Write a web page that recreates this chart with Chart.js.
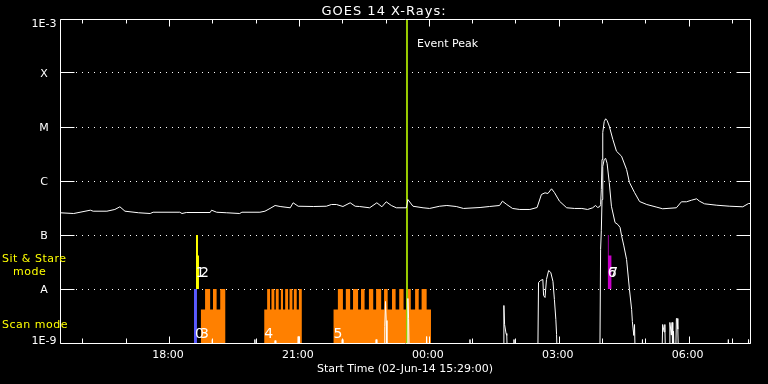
<!DOCTYPE html>
<html>
<head>
<meta charset="utf-8">
<script src="https://cdn.jsdelivr.net/npm/chart.js@4.4.1/dist/chart.umd.min.js"></script>
<style>
html,body{margin:0;padding:0;background:#000;}
canvas{display:block;}
</style>
</head>
<body>
<canvas id="c" width="768" height="384"></canvas>
<script>
// ---------- text ----------
const chartTitle = "GOES 14 X-Rays:";
const xAxisTitle = "Start Time (02-Jun-14 15:29:00)";
const eventLabel = "Event Peak";
const stareModeLabel = ["Sit & Stare", "mode"];
const scanModeLabel = "Scan mode";

// ---------- axes ----------
const timeRange = ["15:29", "07:25"];
const xTickTimes = ["18:00", "21:00", "00:00", "03:00", "06:00"];
const yTickValues = [1e-9, 1e-8, 1e-7, 1e-6, 1e-5, 1e-4, 1e-3];
const yTickLabels = ["1E-9", "A", "B", "C", "M", "X", "1E-3"];

// ---------- GOES long channel (1-8 A), W/m^2 ----------
const longTimes = ["15:29","15:48","16:11","16:15","16:34","16:45","16:52","16:59","17:18","17:34","17:38","18:15","18:18","18:24","18:57","18:59","19:06","19:20","19:38","19:41","20:06","20:13","20:20","20:27","20:34","20:48","20:52","20:59","21:20","21:38","21:45","21:52","22:01","22:11","22:18","22:24","22:38","22:48","22:55","23:01","23:08","23:15","23:29","23:31","23:38","23:52","00:01","00:15","00:25","00:38","00:48","01:11","01:24","01:38","01:42","01:48","01:56","02:06","02:20","02:30","02:36","02:41","02:45","02:50","02:54","03:01","03:11","03:22","03:32","03:40","03:47","03:51","03:54","03:57","03:58","03:59","04:00","04:01","04:03","04:05","04:07","04:10","04:15","04:20","04:27","04:34","04:38","04:45","04:52","05:02","05:16","05:24","05:43","05:50","05:57","06:04","06:11","06:15","06:22","06:39","06:57","07:15","07:23","07:25"];
const longFlux = [2.58e-7,2.50e-7,2.88e-7,2.76e-7,2.76e-7,2.97e-7,3.33e-7,2.76e-7,2.58e-7,2.50e-7,2.64e-7,2.64e-7,2.50e-7,2.61e-7,2.61e-7,2.88e-7,2.64e-7,2.58e-7,2.50e-7,2.64e-7,2.64e-7,2.76e-7,3.10e-7,3.52e-7,3.37e-7,3.19e-7,3.95e-7,3.41e-7,3.37e-7,3.41e-7,3.67e-7,3.67e-7,3.37e-7,3.95e-7,3.41e-7,3.37e-7,3.19e-7,3.95e-7,3.33e-7,4.12e-7,3.52e-7,3.19e-7,3.19e-7,4.54e-7,3.41e-7,3.19e-7,3.10e-7,3.41e-7,3.52e-7,3.37e-7,3.10e-7,3.23e-7,3.37e-7,3.52e-7,4.23e-7,3.67e-7,3.10e-7,2.97e-7,2.97e-7,3.23e-7,5.62e-7,6.04e-7,5.87e-7,7.17e-7,6.12e-7,4.23e-7,3.19e-7,3.10e-7,3.10e-7,2.97e-7,3.19e-7,3.52e-7,3.23e-7,3.37e-7,3.67e-7,6.96e-7,2.50e-6,7.91e-6,1.26e-5,1.42e-5,1.32e-5,1.04e-5,5.87e-6,3.56e-6,2.88e-6,1.63e-6,9.38e-7,6.12e-7,4.17e-7,3.67e-7,3.27e-7,3.06e-7,3.19e-7,4.12e-7,4.12e-7,4.41e-7,4.68e-7,4.23e-7,3.78e-7,3.56e-7,3.41e-7,3.33e-7,3.83e-7,3.83e-7];

// ---------- GOES short channel (0.5-4 A), W/m^2 (values below 1E-9 are off scale) ----------
const shortTimes = ["15:29","18:59","19:00","19:01","19:58","19:59","20:00","20:26","20:27","20:28","20:58","20:59","21:00","21:59","22:00","22:01","22:46","22:47","22:48","22:58","22:59","23:00","23:01","23:02","23:30","23:31","23:32","23:33","23:56","23:57","23:58","00:56","00:57","00:58","01:43","01:44","01:45","01:47","01:48","01:49","01:57","01:58","01:59","02:31","02:32","02:35","02:38","02:39","02:41","02:43","02:46","02:49","02:52","02:54","02:56","02:57","02:58","03:57","03:58","03:59","04:00","04:01","04:03","04:05","04:07","04:10","04:13","04:18","04:22","04:25","04:27","04:30","04:34","04:38","04:41","04:42","04:44","04:45","04:46","04:55","04:56","04:57","05:23","05:24","05:26","05:27","05:28","05:33","05:34","05:36","05:37","05:38","05:39","05:40","05:42","05:43","05:44","05:45","05:46","06:54","06:55","06:56","07:22","07:23","07:24","07:25"];
const shortFlux = [5e-10,5e-10,1.16e-9,5e-10,5e-10,1.16e-9,5e-10,5e-10,1.11e-9,5e-10,5e-10,1.32e-9,5e-10,5e-10,1.16e-9,5e-10,5e-10,1.16e-9,5e-10,5e-10,2.02e-9,5.87e-9,2.61e-9,5e-10,5e-10,6.67e-9,2.84e-9,5e-10,5e-10,1.32e-9,5e-10,5e-10,1.16e-9,5e-10,5e-10,4.95e-9,2.20e-9,1.50e-9,1.38e-9,5e-10,5e-10,1.16e-9,5e-10,5e-10,1.32e-8,1.44e-8,1.50e-8,7.58e-9,6.96e-9,1.50e-8,2.20e-8,2.02e-8,1.38e-8,6.39e-9,2.72e-9,1.44e-9,5e-10,5e-10,5.39e-8,1.20e-7,4.54e-7,1.86e-6,2.50e-6,2.62e-6,2.13e-6,9.38e-7,3.41e-7,1.70e-7,1.56e-7,1.38e-7,9.79e-8,6.50e-8,3.52e-8,9.79e-9,4.17e-9,2.50e-9,1.38e-9,2.20e-9,5e-10,5e-10,1.16e-9,5e-10,5e-10,2.20e-9,1.60e-9,2.20e-9,5e-10,5e-10,2.40e-9,1.40e-9,2.40e-9,5e-10,1.65e-9,5e-10,5e-10,2.84e-9,2.84e-9,1.80e-9,5e-10,5e-10,1.16e-9,5e-10,5e-10,1.16e-9,5e-10,5e-10];

// ---------- instrument observations ----------
const eventPeakTime = "23:29:45";
const scanPeriods = [["18:44","19:18"],["20:12","21:04"],["21:48","00:03"]];
const scanExposures = [["18:50","18:57"],["19:01","19:06"],["19:11","19:18"],
  ["20:16","20:20"],["20:22","20:26"],["20:28","20:32"],["20:35","20:38"],["20:41","20:45"],["20:47","20:51"],["20:53","20:57"],["21:00","21:04"],
  ["21:54","22:01"],["22:05","22:11"],["22:15","22:22"],["22:26","22:31"],["22:37","22:43"],["22:47","22:54"],["22:58","23:03"],["23:09","23:14"],["23:19","23:25"],["23:30","23:35"],["23:41","23:46"],["23:50","23:57"]];
const blueScanPeriods = [["18:34:36","18:38:46"]];
const yellowStarePeriods = [["18:37:24","18:41:32"]];
const yellowStareExposures = [["18:37:24","18:40:10"]];
const magentaStarePeriods = [["04:07:48","04:13:18"]];
const magentaStareExposures = [["04:07:48","04:09:12"]];
const scanFloor = 1e-9, scanBase = 4.17e-9, scanTop = 1e-8;
const stareFloor = 1e-8, stareBase = 4.17e-8, stareTop = 1e-7;

// observation number labels
const obsLabelTexts = ["0","1","2","3","4","5","6","7"];
const obsLabelTimes = ["18:36","18:37","18:43","18:43","20:12","21:48","04:08","04:10"];
const obsLabelFlux  = [1.26e-9,1.70e-8,1.70e-8,1.26e-9,1.26e-9,1.26e-9,1.70e-8,1.70e-8];

// ---------- helpers ----------
function H(s) {
  const p = s.split(':').map(Number);
  let v = p[0] + p[1] / 60 + (p[2] || 0) / 3600;
  if (v < 12) v += 24;
  return v;
}
function series(times, vals) { return times.map((t, i) => ({ x: H(t), y: vals[i] })); }
function steps(segs, floor) {
  const b = [...new Set(segs.flatMap(s => [s.t0, s.t1]))].sort((a, c) => a - c);
  const lv = t => Math.max(floor, ...segs.filter(s => s.t0 <= t && t < s.t1).map(s => s.level));
  const pts = []; let prev = floor;
  for (const t of b) { const l = lv(t); pts.push({ x: t, y: prev }); pts.push({ x: t, y: l }); prev = l; }
  return pts;
}
const seg = (list, level) => list.map(p => ({ t0: H(p[0]), t1: H(p[1]), level }));

const FONT = '"DejaVu Sans", sans-serif';

const fillDs = (data, color, floor, order) => ({
  data, borderWidth: 0, borderColor: 'transparent', backgroundColor: color,
  fill: { value: floor }, pointRadius: 0, order
});

const datasets = [
  { label: 'long', data: series(longTimes, longFlux), borderColor: '#ffffff', borderWidth: 1, pointRadius: 0, fill: false, order: 0 },
  { label: 'short', data: series(shortTimes, shortFlux), borderColor: '#ffffff', borderWidth: 1, pointRadius: 0, fill: false, order: 0 },
  { label: 'peak', data: [{ x: H(eventPeakTime), y: 1e-9 }, { x: H(eventPeakTime), y: 1e-3 }], borderColor: '#99cc00', borderWidth: 2, pointRadius: 0, fill: false, order: 1 },
  fillDs(steps(seg(blueScanPeriods, scanTop), scanFloor), '#5a5aff', scanFloor, 2),
  fillDs(steps([...seg(yellowStarePeriods, stareBase), ...seg(yellowStareExposures, stareTop)], stareFloor), '#ffff00', stareFloor, 2),
  fillDs(steps([...seg(magentaStarePeriods, stareBase), ...seg(magentaStareExposures, stareTop)], stareFloor), '#c800c8', stareFloor, 2),
  fillDs(steps([...seg(scanPeriods, scanBase), ...seg(scanExposures, scanTop)], scanFloor), '#ff8000', scanFloor, 3)
];

const idlAxes = {
  id: 'idlAxes',
  beforeDatasetsDraw(chart) {
    const { ctx, chartArea: a, scales: { y } } = chart;
    ctx.save();
    ctx.strokeStyle = '#ffffff'; ctx.lineWidth = 1; ctx.setLineDash([1, 5]);
    yTickValues.slice(1, -1).forEach(v => {
      const py = Math.floor(y.getPixelForValue(v)) + 0.5;
      ctx.beginPath(); ctx.moveTo(a.left + 16, py); ctx.lineTo(a.right - 14, py); ctx.stroke();
    });
    ctx.restore();
  },
  afterDatasetsDraw(chart) {
    const { ctx, chartArea: a, scales: { x, y } } = chart;
    ctx.save();
    ctx.strokeStyle = '#ffffff'; ctx.lineWidth = 1; ctx.setLineDash([]);
    const L = a.left + 0.5, R = a.right + 0.5, T = a.top + 0.5, B = a.bottom + 0.5;
    ctx.beginPath(); ctx.rect(L, T, R - L, B - T); ctx.stroke();
    // y ticks
    yTickValues.forEach(v => {
      const py = Math.floor(y.getPixelForValue(v)) + 0.5;
      ctx.beginPath();
      ctx.moveTo(L, py); ctx.lineTo(L + 14, py);
      ctx.moveTo(R - 14, py); ctx.lineTo(R, py);
      ctx.stroke();
    });
    // x ticks (hourly minor, 3-hourly major)
    const majors = xTickTimes.map(H);
    for (let h = Math.ceil(x.min); h <= x.max; h++) {
      const px = Math.round(x.getPixelForValue(h)) + 0.5;
      const major = majors.some(m => Math.abs(m - h) < 1e-6);
      const lenT = major ? 7 : 4, lenB = major ? 7 : 5;
      ctx.beginPath();
      ctx.moveTo(px, T); ctx.lineTo(px, T + lenT);
      ctx.moveTo(px, B); ctx.lineTo(px, B - lenB);
      ctx.stroke();
    }
    // text
    ctx.fillStyle = '#ffffff';
    ctx.font = '11px ' + FONT;
    ctx.textBaseline = 'alphabetic';
    ctx.textAlign = 'center';
    yTickValues.forEach((v, i) => {
      const py = y.getPixelForValue(v);
      let base = py + 4;
      if (i === yTickValues.length - 1) base = py + 8;
      if (i === 0) base = py + 1;
      ctx.fillText(yTickLabels[i], 44, base);
    });
    xTickTimes.forEach(t => {
      ctx.fillText(t, x.getPixelForValue(H(t)) - 1, a.bottom + 15);
    });
    ctx.fillText(xAxisTitle, (a.left + a.right) / 2, a.bottom + 29);
    // title
    ctx.font = '13px ' + FONT;
    ctx.letterSpacing = '1px';
    ctx.fillText(chartTitle, chart.width / 2, 15);
    ctx.letterSpacing = '0px';
    // event label
    ctx.font = '11px ' + FONT;
    ctx.textAlign = 'left';
    ctx.fillText(eventLabel, x.getPixelForValue(H(eventPeakTime)) + 10, a.top + 28);
    // mode labels
    ctx.fillStyle = '#ffff00';
    ctx.letterSpacing = '0.5px';
    ctx.fillText(stareModeLabel[0], 2, 262);
    ctx.fillText(stareModeLabel[1], 13, 275);
    ctx.fillText(scanModeLabel, 2, 328);
    ctx.letterSpacing = '0px';
    // observation numbers
    ctx.fillStyle = '#ffffff';
    ctx.font = '14px ' + FONT;
    obsLabelTexts.forEach((s, i) => {
      ctx.fillText(s, x.getPixelForValue(H(obsLabelTimes[i])), y.getPixelForValue(obsLabelFlux[i]));
    });
    ctx.restore();
  }
};

new Chart(document.getElementById('c'), {
  type: 'line',
  data: { datasets },
  options: {
    responsive: false,
    animation: false,
    devicePixelRatio: 1,
    events: [],
    layout: { padding: { left: 60, right: 18, top: 19, bottom: 41 } },
    scales: {
      x: { type: 'linear', display: false, min: H(timeRange[0]), max: H(timeRange[1]) },
      y: { type: 'logarithmic', display: false, min: 1e-9, max: 1e-3 }
    },
    elements: { line: { tension: 0 }, point: { radius: 0 } },
    plugins: { legend: { display: false }, tooltip: { enabled: false }, title: { display: false } }
  },
  plugins: [idlAxes]
});
</script>
</body>
</html>
